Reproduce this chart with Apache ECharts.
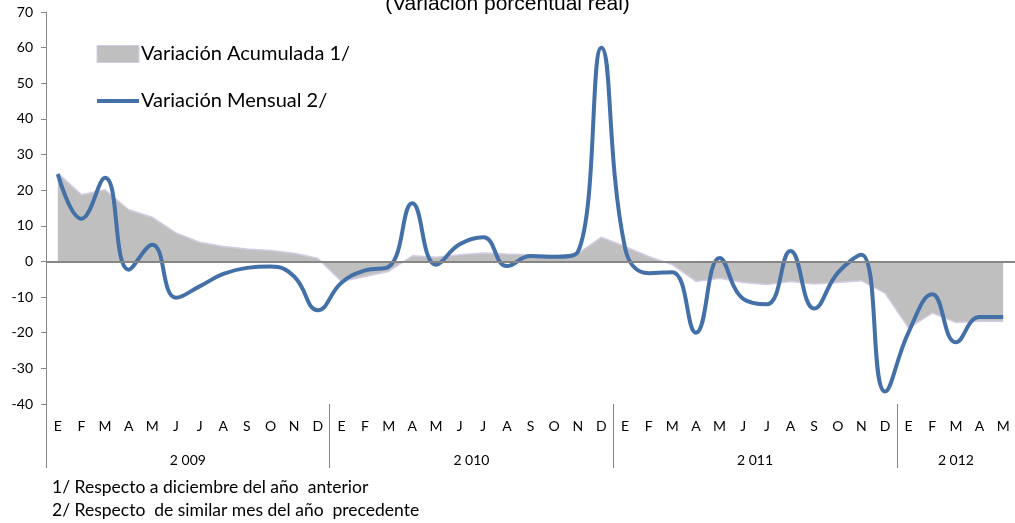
<!DOCTYPE html>
<html>
<head>
<meta charset="utf-8">
<script src="https://cdn.jsdelivr.net/npm/echarts@6/dist/echarts.min.js"></script>
<style>
html,body{margin:0;padding:0;background:#fff;}
#chart{width:1015px;height:523px;}
</style>
</head>
<body>
<div id="chart"></div>
<script>
// meses (E..D) por año
const monthLetters = ['E','F','M','A','M','J','J','A','S','O','N','D'];
const years = ['2 009','2 010','2 011','2 012'];
const monthsPerYear = [12,12,12,5];

// variación acumulada 1/ (área)
const acumulada = [
  24.8, 18.7, 20.1, 14.5, 12.4, 8.0, 5.4, 4.2, 3.5, 3.1, 2.3, 0.9,
  -5.6, -4.2, -2.8, 1.6, 1.2, 1.9, 2.4, 2.1, 1.9, 1.6, 2.1, 6.8,
  4.2, 1.4, -0.9, -5.6, -4.7, -5.9, -6.5, -5.6, -6.3, -5.9, -5.4, -8.9,
  -18.7, -14.5, -17.1, -16.8, -16.8
];
// variación mensual 2/ (línea)
const mensual = [
  24.5, 12.0, 23.5, -2.3, 4.7, -10.2, -7.0, -3.5, -1.8, -1.4, -4.2, -13.7,
  -6.0, -2.5, -1.5, 16.3, -0.9, 4.8, 6.8, -1.3, 1.5, 1.3, 2.6, 60.0,
  3.8, -3.3, -3.0, -20.0, 1.0, -10.5, -12.0, 2.9, -13.2, -3.2, 1.9, -36.5,
  -19.8, -9.2, -22.7, -15.6, -15.6
];

const yTicks = {min: -40, max: 70, step: 10};

// categorías y posiciones de etiquetas de año
let categories = [];
let yearLabelAt = {};
let yearStarts = [];
let start = 0;
monthsPerYear.forEach((n, yi) => {
  yearStarts.push(start);
  for (let i = 0; i < n; i++) categories.push(monthLetters[i] + ' ' + years[yi]);
  // centro del tramo del año
  let mid = start + n / 2;
  if (n % 2 === 0) yearLabelAt[mid - 1] = '{sh|' + years[yi] + '}';
  else yearLabelAt[Math.floor(mid)] = years[yi];
  start += n;
});

const font = 'Lato';
const chart = echarts.init(document.getElementById('chart'));
chart.setOption({
  animation: false,
  title: {
    text: '(Variación porcentual real)',
    left: 'center',
    top: -11,
    textStyle: {fontFamily: 'Liberation Sans', fontSize: 21, fontWeight: 'normal', color: '#000'}
  },
  legend: {
    orient: 'vertical',
    left: 95,
    top: 44,
    padding: 0,
    itemGap: 27,
    itemWidth: 42,
    itemHeight: 17,
    textStyle: {fontFamily: font, fontSize: 20, color: '#000', padding: [0,0,0,-3]},
    data: [
      {name: 'Variación Acumulada 1/', icon: 'rect',
       itemStyle: {color: '#BFBFBF', borderColor: '#D4CCE4', borderWidth: 1}},
      {name: 'Variación Mensual 2/', itemStyle: {opacity: 0},
       lineStyle: {color: '#4470A8', width: 4}}
    ]
  },
  grid: {left: 46, right: -1, top: 12, bottom: 119},
  xAxis: [
    {
      type: 'category',
      data: categories,
      position: 'bottom',
      axisLine: {show: false},
      axisTick: {show: false},
      axisLabel: {
        interval: 0,
        margin: 15,
        fontFamily: font,
        fontSize: 14,
        color: '#000',
        formatter: (v) => v.split(' ')[0]
      }
    },
    {
      type: 'category',
      data: categories,
      position: 'bottom',
      axisLine: {show: false},
      axisTick: {
        show: true,
        length: 64,
        interval: (i) => yearStarts.includes(i),
        lineStyle: {color: '#868686', width: 1}
      },
      axisLabel: {
        interval: 0,
        margin: 49,
        fontFamily: font,
        fontSize: 14,
        color: '#000',
        formatter: (v, i) => yearLabelAt[i] || '',
        rich: {
          sh: {fontFamily: font, fontSize: 14, color: '#000', padding: [0, 0, 0, 23.7]}
        }
      }
    }
  ],
  yAxis: {
    type: 'value',
    min: yTicks.min,
    max: yTicks.max,
    interval: yTicks.step,
    axisLine: {show: true, lineStyle: {color: '#868686', width: 1}},
    axisTick: {show: true, length: 5, lineStyle: {color: '#868686'}},
    splitLine: {show: false},
    axisLabel: {margin: 13, fontFamily: font, fontSize: 14, color: '#000'}
  },
  series: [
    {
      name: 'Variación Acumulada 1/',
      type: 'line',
      data: acumulada,
      symbol: 'none',
      lineStyle: {color: '#D4CCE4', width: 1.5},
      itemStyle: {color: '#BFBFBF'},
      areaStyle: {color: '#BFBFBF', opacity: 1},
      markLine: {
        silent: true,
        symbol: 'none',
        label: {show: false},
        lineStyle: {color: '#868686', width: 2, type: 'solid'},
        data: [{yAxis: 0}]
      },
      z: 1
    },
    {
      name: 'Variación Mensual 2/',
      type: 'line',
      data: mensual,
      symbol: 'none',
      smooth: 0.45,
      lineStyle: {color: '#4470A8', width: 4},
      itemStyle: {color: '#4470A8'},
      z: 3
    }
  ],
  graphic: [
    {type: 'text', left: 52, top: 478,
     style: {text: '1/ Respecto a diciembre del año  anterior', fill: '#000', font: '17.5px Lato'}},
    {type: 'text', left: 52, top: 501,
     style: {text: '2/ Respecto  de similar mes del año  precedente', fill: '#000', font: '17.5px Lato'}}
  ]
});
</script>
</body>
</html>
